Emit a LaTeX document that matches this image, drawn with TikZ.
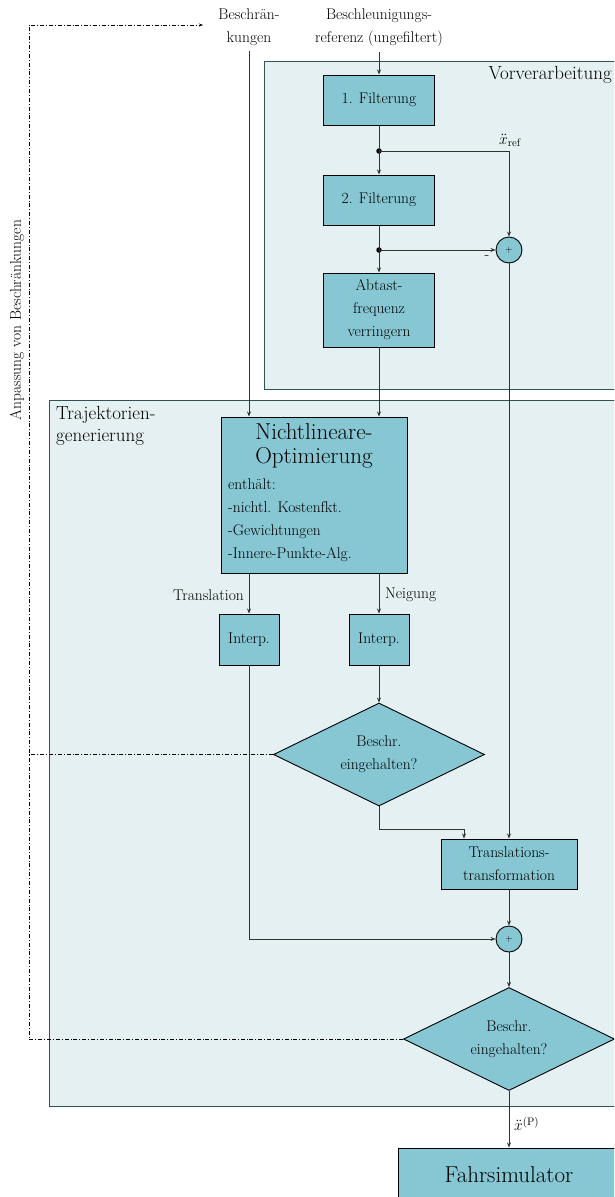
\RequirePackage{fix-cm}
\documentclass[tikz,border=0pt]{standalone}
\usepackage{fontspec}
\usetikzlibrary{shapes.geometric,arrows.meta,calc}
\definecolor{boxfill}{RGB}{134,199,211}
\definecolor{grpfill}{RGB}{228,240,241}
\definecolor{grpdraw}{RGB}{47,84,84}
\definecolor{linec}{RGB}{50,50,50}
\newcommand{\normtext}{\fontsize{15.5}{23}\selectfont}
\newcommand{\nlbig}{\fontsize{23}{24}\selectfont}
\newcommand{\grptext}{\fontsize{19}{22}\selectfont}
\tikzset{
  blk/.style={draw=black, fill=boxfill, line width=1pt, inner sep=0pt, align=center, font=\normtext},
  grp/.style={draw=grpdraw, fill=grpfill, line width=1pt},
  sumc/.style={circle, draw=black, fill=boxfill, minimum size=26pt, inner sep=0pt, line width=0.9pt, font=\fontsize{9}{9}\selectfont},
  dec/.style={diamond, shape aspect=2.05, draw=black, fill=boxfill, minimum width=211pt, minimum height=103pt, inner sep=0pt, align=center, font=\normtext, line width=0.9pt},
  conn/.style={draw=linec, line width=0.9pt, -{Stealth[length=5pt,width=4pt]}},
  fb/.style={draw=black, line width=0.8pt, dash pattern=on 4pt off 2pt on 0.8pt off 2pt},
  lbl/.style={font=\normtext, align=center, inner sep=0pt},
  jdot/.style={circle, fill=black, minimum size=5.5pt, inner sep=0pt},
}
\begin{document}
\begin{tikzpicture}[x=1pt,y=-1pt]
\useasboundingbox (0,0) rectangle (614,1197);
\clip (0,0) rectangle (614,1197);
% groups
\draw[grp] (264,61) rectangle (630,389);
\draw[grp] (49,400) rectangle (630,1106);
\node[anchor=base east, font=\grptext, inner sep=0pt] (vvlbl) at (612,79) {Vorverarbeitung};
\node[anchor=north west, font=\grptext, inner sep=0pt, align=left] (tglbl) at (56,406) {Trajektorien-\\generierung};
% inputs
\node[lbl, anchor=north] (besch) at (249,9) {Beschrän-\\kungen};
\node[lbl, anchor=north] (ref) at (379,9) {Beschleunigungs-\\referenz (ungefiltert)};
% preprocessing
\node[blk, minimum width=111pt, minimum height=50pt] (f1) at (379,100) {1. Filterung};
\node[blk, minimum width=111pt, minimum height=50pt] (f2) at (379,200) {2. Filterung};
\node[blk, minimum width=111pt, minimum height=74pt] (ab) at (379,310) {Abtast-\\frequenz\\verringern};
\node[jdot] (j1) at (379,151) {};
\node[jdot] (j2) at (379,250) {};
\node[sumc] (s1) at (509,250) {+};
\node[inner sep=0pt, anchor=south, font=\normtext] (xref) at (510,147) {$\ddot{x}_{\mathrm{ref}}$};
\node[inner sep=0pt, font=\normtext] (minus) at (487,258) {-};
% trajectory generation
\node[blk, minimum width=186pt, minimum height=156pt] (nlo) at (314,495) {};
\node[inner sep=0pt, anchor=north, align=center, font=\nlbig] (nlot) at (314,423) {Nichtlineare-\\Optimierung};
\node[inner sep=0pt, anchor=north west, align=left, font=\normtext] (nlol) at (228,479) {enthält:\\-nichtl. Kostenfkt.\\-Gewichtungen\\-Innere-Punkte-Alg.};
\node[blk, minimum width=60pt, minimum height=51pt] (i1) at (249,639.5) {Interp.};
\node[blk, minimum width=60pt, minimum height=51pt] (i2) at (379,639.5) {Interp.};
\node[lbl, anchor=base east] (trl) at (244,600) {Translation};
\node[lbl, anchor=base west] (ngl) at (385,598) {Neigung};
\node[dec] (d1) at (379,754.5) {Beschr.\\eingehalten?};
\node[blk, minimum width=136pt, minimum height=50pt] (tt) at (509,864) {Translations-\\transformation};
\node[sumc] (s2) at (509,939) {+};
\node[dec] (d2) at (509,1039) {Beschr.\\eingehalten?};
\node[blk, minimum width=222pt, minimum height=54pt, font=\nlbig] (fs) at (509,1175) {Fahrsimulator};
\node[inner sep=0pt, anchor=west, font=\normtext] (xp) at (514,1124) {$\ddot{x}^{(\mathrm{P})}$};
% feedback label
\node[rotate=90, inner sep=0pt, font=\normtext] (anp) at (17,320) {Anpassung von Beschränkungen};
% connectors
\draw[conn] ([yshift=-5pt]ref.south) -- (f1.north);
\draw[conn] (f1.south) -- (f2.north);
\draw[conn] (f2.south) -- (ab.north);
\draw[conn] (ab.south) -- (ab.south |- nlo.north);
\draw[conn] ([yshift=-5pt]besch.south) -- (besch.south |- nlo.north);
\draw[conn] (j1.center) -| (s1.north);
\draw[conn] (j2.center) -- (s1.west);
\draw[conn] (s1.south) -- (tt.north);
\draw[conn] (i1.north |- nlo.south) -- (i1.north);
\draw[conn] (i2.north |- nlo.south) -- (i2.north);
\draw[conn] (i2.south) -- (d1.north);
\draw[conn] (d1.south) -- ++(0,23) -| ([xshift=-45pt]tt.north);
\draw[conn] (tt.south) -- (s2.north);
\draw[conn] (i1.south) |- (s2.west);
\draw[conn] (s2.south) -- (d2.north);
\draw[conn] (d2.south) -- (fs.north);
% feedback
\coordinate (c0) at (29,25);
\coordinate (fbend) at (203,25);
\draw[fb, -{Stealth[length=4pt,width=3pt]}] (d2.west) -- (c0 |- d2.west) -- (c0) -- (fbend);
\draw[fb] (d1.west) -- (c0 |- d1.west);
\end{tikzpicture}
\end{document}
